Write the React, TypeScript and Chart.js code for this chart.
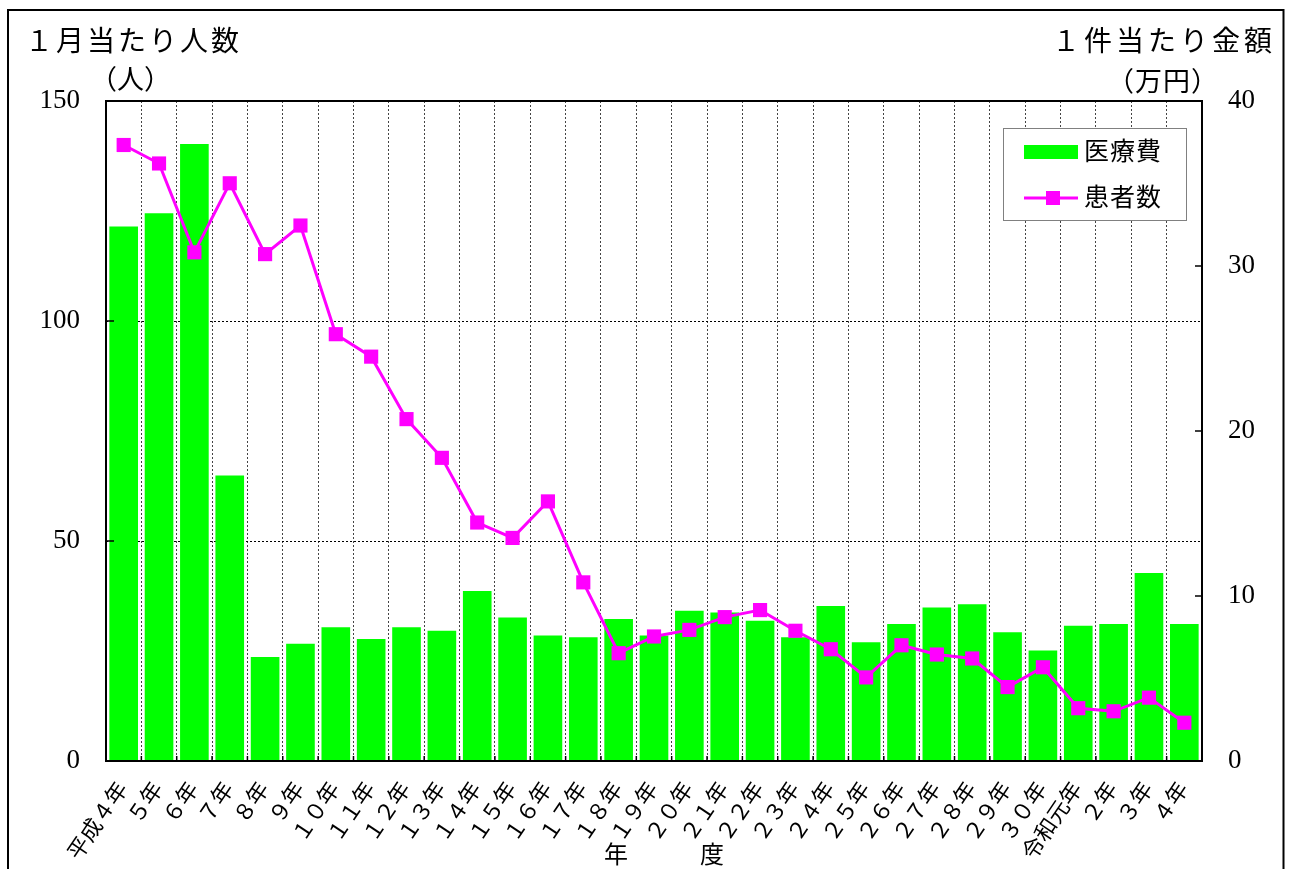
import React, { useEffect, useRef } from "react";
import { Chart, registerables } from "chart.js";

Chart.register(...registerables);

const categories = [
  "平成４年", "５年", "６年", "７年", "８年", "９年", "１０年", "１１年", "１２年", "１３年",
  "１４年", "１５年", "１６年", "１７年", "１８年", "１９年", "２０年", "２１年", "２２年", "２３年",
  "２４年", "２５年", "２６年", "２７年", "２８年", "２９年", "３０年", "令和元年", "２年", "３年", "４年",
];

// 医療費: 1件当たり金額（万円） — right axis
const costValues = [
  32.4, 33.2, 37.4, 17.3, 6.3, 7.1, 8.1, 7.4, 8.1, 7.9,
  10.3, 8.7, 7.6, 7.5, 8.6, 7.6, 9.1, 9.0, 8.5, 7.5,
  9.4, 7.2, 8.3, 9.3, 9.5, 7.8, 6.7, 8.2, 8.3, 11.4, 8.3,
];

// 患者数: 1月当たり人数（人） — left axis
const patientValues = [
  140.0, 135.8, 115.6, 131.3, 115.2, 121.7, 97.0, 91.9, 77.7, 68.9,
  54.2, 50.7, 59.0, 40.6, 24.5, 28.3, 29.8, 32.7, 34.3, 29.6,
  25.4, 19.0, 26.3, 24.2, 23.3, 16.8, 21.3, 12.0, 11.3, 14.4, 8.7,
];

const leftTicks = [0, 50, 100, 150];
const rightTicks = [0, 10, 20, 30, 40];

const seriesNames = ["医療費", "患者数"];
const leftTitle = "１月当たり人数";
const leftUnit = "（人）";
const rightTitle = "１件当たり金額";
const rightUnit = "（万円）";
const xTitle = "年　　　度";

const GREEN = "#00FF00";
const MAGENTA = "#FF00FF";
const SERIF = "'Liberation Serif', 'Noto Sans CJK JP', serif";

const W = 1293;
const H = 869;

const decorations = {
  id: "decorations",
  afterDraw(chart: any) {
    const ctx = chart.ctx as CanvasRenderingContext2D;
    const a = chart.chartArea;
    ctx.save();

    // small inner tick marks
    ctx.strokeStyle = "#000";
    ctx.lineWidth = 1.5;
    ctx.setLineDash([]);
    const ys = chart.scales.y;
    for (const v of leftTicks) {
      const py = ys.getPixelForValue(v);
      ctx.beginPath();
      ctx.moveTo(a.left, py);
      ctx.lineTo(a.left + 8, py);
      ctx.stroke();
    }
    const y2 = chart.scales.y2;
    for (const v of rightTicks) {
      const py = y2.getPixelForValue(v);
      ctx.beginPath();
      ctx.moveTo(a.right, py);
      ctx.lineTo(a.right - 7, py);
      ctx.stroke();
    }
    const step = (a.right - a.left) / categories.length;
    for (let i = 0; i <= categories.length; i++) {
      const px = a.left + i * step;
      ctx.beginPath();
      ctx.moveTo(px, a.bottom);
      ctx.lineTo(px, a.bottom - 5);
      ctx.stroke();
    }

    // plot frame
    ctx.lineWidth = 2;
    ctx.strokeRect(a.left, a.top, a.right - a.left, a.bottom - a.top);

    // outer frame
    ctx.strokeRect(8, 10, 1275.5, 900);

    // axis titles
    ctx.fillStyle = "#000";
    ctx.textBaseline = "middle";
    ctx.font = `28px ${SERIF}`;
    (ctx as any).letterSpacing = "3px";
    ctx.textAlign = "left";
    ctx.fillText(leftTitle, 25, 44);
    (ctx as any).letterSpacing = "4px";
    ctx.fillText(rightTitle, 1052, 44);
    (ctx as any).letterSpacing = "0px";
    ctx.font = `27px ${SERIF}`;
    ctx.fillText(leftUnit, 90, 82);
    ctx.textAlign = "center";
    (ctx as any).letterSpacing = "1px";
    ctx.fillText(rightUnit, 1163, 84);

    (ctx as any).letterSpacing = "0px";
    ctx.font = `24px ${SERIF}`;
    ctx.fillText(xTitle, 664, 857);

    // legend
    const lx = 1003.5, ly = 128.5, lw = 183, lh = 92;
    ctx.fillStyle = "#fff";
    ctx.fillRect(lx, ly, lw, lh);
    ctx.strokeStyle = "#808080";
    ctx.lineWidth = 1;
    ctx.strokeRect(lx, ly, lw, lh);

    const ds = chart.data.datasets;
    ctx.fillStyle = ds[0].backgroundColor;
    ctx.fillRect(1024, 145, 54, 14);

    ctx.strokeStyle = ds[1].borderColor;
    ctx.lineWidth = 3;
    ctx.beginPath();
    ctx.moveTo(1024, 198);
    ctx.lineTo(1078, 198);
    ctx.stroke();
    ctx.fillStyle = ds[1].backgroundColor;
    ctx.fillRect(1046, 191, 14, 14);

    ctx.fillStyle = "#000";
    ctx.textAlign = "left";
    ctx.font = `25px ${SERIF}`;
    (ctx as any).letterSpacing = "1px";
    ctx.fillText(ds[0].label, 1084, 153);
    ctx.fillText(ds[1].label, 1084, 199);

    ctx.restore();
  },
};

export default function App() {
  const canvasRef = useRef<HTMLCanvasElement | null>(null);

  useEffect(() => {
    if (!canvasRef.current) return;
    const chart = new Chart(canvasRef.current, {
      data: {
        labels: categories,
        datasets: [
          {
            type: "bar",
            label: seriesNames[0],
            data: costValues,
            yAxisID: "y2",
            backgroundColor: GREEN,
            borderWidth: 0,
            categoryPercentage: 1,
            barPercentage: 0.81,
            order: 2,
          },
          {
            type: "line",
            label: seriesNames[1],
            data: patientValues,
            yAxisID: "y",
            borderColor: MAGENTA,
            backgroundColor: MAGENTA,
            borderWidth: 3,
            pointStyle: "rect",
            pointRadius: 10,
            pointBorderWidth: 0,
            tension: 0,
            order: 1,
          },
        ],
      } as any,
      plugins: [decorations],
      options: {
        animation: false,
        responsive: true,
        maintainAspectRatio: false,
        layout: { padding: { top: 101, left: 0, right: 0, bottom: 0 } },
        plugins: {
          legend: { display: false },
          tooltip: { enabled: false },
        },
        scales: {
          x: {
            offset: true,
            grid: {
              offset: true,
              color: "#444",
              lineWidth: 1,
              drawTicks: false,
            },
            border: { display: false, dash: [2, 2] },
            ticks: {
              autoSkip: false,
              maxRotation: 56,
              minRotation: 56,
              padding: 17,
              color: "#000",
              font: { family: SERIF, size: 22 },
            },
            afterFit: (s: any) => {
              s.height = 108;
            },
          },
          y: {
            position: "left",
            min: 0,
            max: 150,
            ticks: {
              stepSize: 50,
              padding: 26,
              color: "#000",
              font: { family: SERIF, size: 27 },
            },
            grid: { color: "#000", lineWidth: 1, drawTicks: false },
            border: { display: false, dash: [2, 2] },
            afterFit: (s: any) => {
              s.width = 106;
            },
          },
          y2: {
            position: "right",
            min: 0,
            max: 40,
            ticks: {
              stepSize: 10,
              padding: 26,
              color: "#000",
              font: { family: SERIF, size: 27 },
            },
            grid: { drawOnChartArea: false, drawTicks: false },
            border: { display: false },
            afterFit: (s: any) => {
              s.width = W - 1202;
            },
          },
        },
      } as any,
    });
    return () => chart.destroy();
  }, []);

  return (
    <div
      style={{
        position: "fixed",
        left: 0,
        top: 0,
        width: W,
        height: H,
        background: "#fff",
      }}
    >
      <canvas ref={canvasRef} style={{ display: "block" }} />
    </div>
  );
}
